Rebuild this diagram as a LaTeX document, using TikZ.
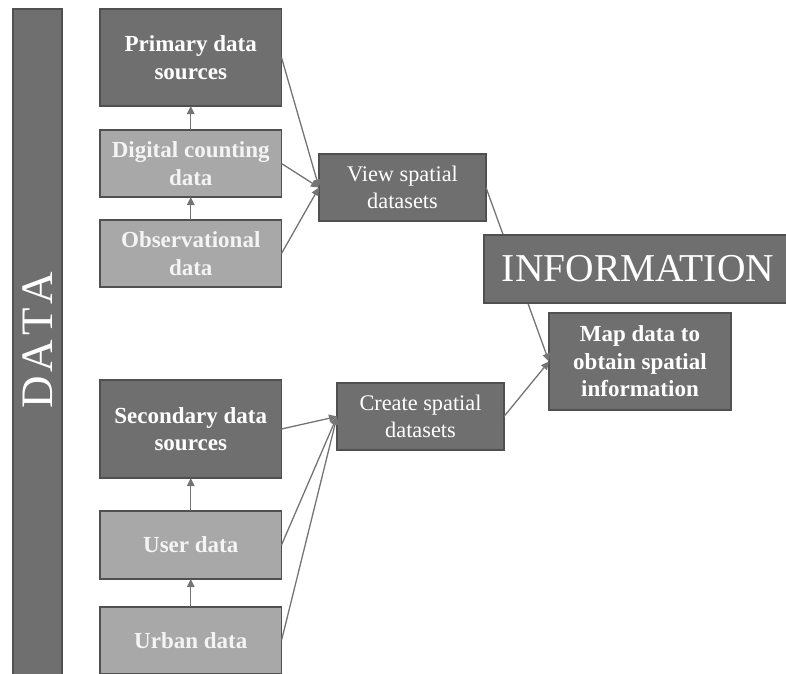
\documentclass[tikz,border=0pt]{standalone}
\usepackage{fontspec}
\setmainfont{Liberation Serif}
\usetikzlibrary{arrows.meta}
\definecolor{darkbox}{HTML}{6F6F6F}
\definecolor{lightbox}{HTML}{A8A8A8}
\definecolor{boxline}{HTML}{505050}
\definecolor{linkc}{HTML}{747474}
\definecolor{txt}{HTML}{FFFFFF}
\definecolor{txtl}{HTML}{F4F4F4}
\tikzset{
  basebox/.style={rectangle, draw=boxline, line width=1.4pt, inner sep=0pt, outer sep=0pt, align=center},
  darkb/.style={basebox, fill=darkbox, text=txt},
  lightb/.style={basebox, fill=lightbox, text=txtl},
  boldtext/.style={font=\fontsize{23}{27.5}\selectfont\bfseries},
  plaintext/.style={font=\fontsize{22.3}{26.5}\selectfont},
  link/.style={draw=linkc, line width=1.3pt, -{Triangle[length=8pt,width=7.5pt]}},
}
\begin{document}
\begin{tikzpicture}[x=1pt,y=-1pt]
\useasboundingbox (0,0) rectangle (786,673);
\begin{scope}
\clip (0,0) rectangle (786,673);
% left bar
\node[darkb, minimum width=49pt, minimum height=668pt] (bar) at (37.5,343) {};
\node[text=txt, rotate=90, font=\fontsize{45}{45}\selectfont] (datalbl) at (38,340) {D\kern4pt A\kern4pt T\kern4pt A};
% primary group
\node[darkb, boldtext, minimum width=181.5pt, minimum height=97pt] (prim) at (190.75,57.5) {Primary data\\sources};
\node[lightb, boldtext, minimum width=181.5pt, minimum height=67pt] (digi) at (190.75,163.5) {Digital counting\\data};
\node[lightb, boldtext, minimum width=181.5pt, minimum height=67pt] (obs) at (190.75,253.5) {Observational\\data};
% secondary group
\node[darkb, boldtext, minimum width=181.5pt, minimum height=98pt] (sec) at (190.75,429) {Secondary data\\sources};
\node[lightb, boldtext, minimum width=181.5pt, minimum height=68pt] (user) at (190.75,545) {User data};
\node[lightb, boldtext, minimum width=181.5pt, minimum height=67pt] (urban) at (190.75,640.5) {Urban data};
% middle
\node[darkb, plaintext, minimum width=167pt, minimum height=67pt] (view) at (402.5,187.5) {View spatial\\datasets};
\node[darkb, plaintext, minimum width=167pt, minimum height=67pt] (create) at (420.5,416.5) {Create spatial\\datasets};
\node[darkb, boldtext, minimum width=182pt, minimum height=97pt] (map) at (640,361.5) {Map data to\\obtain spatial\\information};
% connectors
\draw[link] (digi.north) -- (prim.south);
\draw[link] (obs.north) -- (digi.south);
\draw[link] (user.north) -- (sec.south);
\draw[link] (urban.north) -- (user.south);
\draw[link] (prim.east) -- (view.west);
\draw[link] (digi.east) -- (view.west);
\draw[link] (obs.east) -- (view.west);
\draw[link] (sec.east) -- (create.west);
\draw[link] (user.east) -- (create.west);
\draw[link] (urban.east) -- (create.west);
\draw[link] (view.east) -- (map.west);
\draw[link] (create.east) -- (map.west);
% information on top
\node[darkb, font=\fontsize{39.5}{39.5}\selectfont, minimum width=308pt, minimum height=68pt] (info) at (638,269) {INFORMATION};
\end{scope}
\end{tikzpicture}
\end{document}
